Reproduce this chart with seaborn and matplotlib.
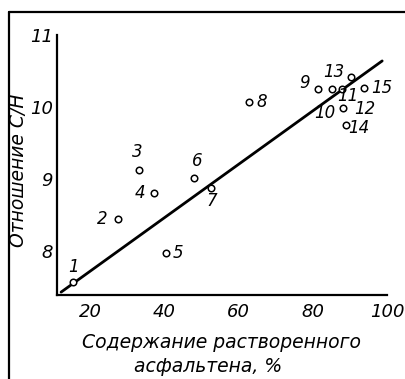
import matplotlib
matplotlib.use("Agg")
import matplotlib.pyplot as plt
from matplotlib.lines import Line2D
import seaborn as sns
import pandas as pd

# ---- data ----
point_labels = ["1", "2", "3", "4", "5", "6", "7", "8", "9", "10",
                "11", "12", "13", "14", "15"]
asphaltene_pct = [15.5, 27.4, 33.2, 37.3, 40.5, 48.0, 52.5, 62.9, 81.5, 88.1,
                  87.8, 85.1, 90.3, 89.0, 93.7]
ch_ratio = [7.57, 8.45, 9.13, 8.81, 7.98, 9.01, 8.88, 10.07, 10.25, 9.98,
            10.25, 10.25, 10.41, 9.75, 10.27]
fit_x = [12.2, 98.7]
fit_y = [7.43, 10.64]
x_ticks = [20, 40, 60, 80, 100]
y_ticks = [8, 9, 10, 11]

# label placement offsets (pixels) - styling only
label_offsets = [(0, 15), (-15.6, 0), (-2, 17.6), (-14, 0), (12, 0), (3, 17),
                 (1, -13), (12, 0), (-13.3, 5.7), (-17.7, -5), (6.5, -6.5),
                 (33, -20), (-17.4, 5.4), (12.3, -3.3), (18.4, 0)]

sns.set_theme(style="white")
plt.rcParams["font.family"] = ["DejaVu Sans"]

W, H = 406, 379
fig = plt.figure(figsize=(W / 100, H / 100), dpi=100)
ax = fig.add_axes([57 / W, 1 - 295 / H, (387 - 57) / W, (295 - 35) / H])

df = pd.DataFrame({"x": asphaltene_pct, "y": ch_ratio, "lab": point_labels})
sns.lineplot(x=fit_x, y=fit_y, ax=ax, color="black", linewidth=2.0)
sns.scatterplot(data=df, x="x", y="y", ax=ax, marker="o", s=22,
                facecolor="white", edgecolor="black", linewidth=1.1, zorder=3)

tick_font = dict(family="Liberation Sans Narrow", style="italic", size=13)
pt_font = dict(family="Liberation Sans Narrow", style="italic", size=12)
for lab, xv, yv, off in zip(point_labels, asphaltene_pct, ch_ratio, label_offsets):
    ax.annotate(lab, (xv, yv), xytext=off, textcoords="offset pixels",
                ha="center", va="center", color="black", **pt_font)

ax.set_xlim(11.1, 100)
ax.set_ylim(7.39, 11)
ax.set_xticks(x_ticks)
ax.set_yticks(y_ticks)
ax.set_xticklabels([str(t) for t in x_ticks], **tick_font)
ax.set_yticklabels([str(t) for t in y_ticks], **tick_font)
ax.tick_params(axis="both", direction="in", length=5, width=1.2, colors="black")
ax.tick_params(axis="x", pad=6)
ax.tick_params(axis="y", pad=3)
for s in ["top", "right"]:
    ax.spines[s].set_visible(False)
for s in ["left", "bottom"]:
    ax.spines[s].set_color("black")
    ax.spines[s].set_linewidth(1.6)

lab_font = dict(family="DejaVu Sans", style="italic", size=13.5)
ax.set_ylabel("Отношение С/Н", color="black", **lab_font)
ax.yaxis.set_label_coords((28 - 57) / 330, 0.48)
ax.set_xlabel("")
fig.text(222 / W, 1 - 343 / H, "Содержание растворенного", ha="center",
         va="center", color="black", **lab_font)
fig.text(208 / W, 1 - 367 / H, "асфальтена, %", ha="center",
         va="center", color="black", **lab_font)

# page frame (left and top edges visible in the scan)
fig.add_artist(Line2D([9 / W, 9 / W], [0, 1 - 12 / H], color="black", linewidth=1.6))
fig.add_artist(Line2D([9 / W, 1], [1 - 12 / H, 1 - 12 / H], color="black", linewidth=1.6))

fig.savefig("out.png", dpi=100, facecolor="white")
